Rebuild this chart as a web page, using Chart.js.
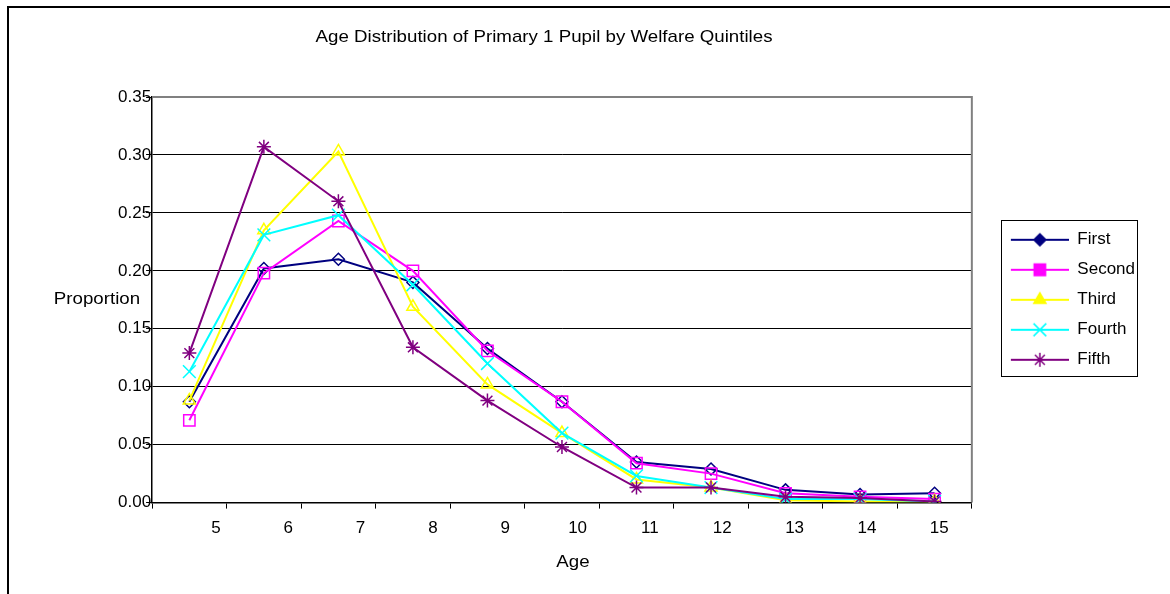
<!DOCTYPE html>
<html>
<head>
<meta charset="utf-8">
<script src="https://cdn.jsdelivr.net/npm/chart.js@4.4.1/dist/chart.umd.min.js"></script>
<style>
html,body{margin:0;padding:0;background:#fff;overflow:hidden}
#moldura{position:absolute;left:7px;top:6px;width:1300px;height:700px;border:2px solid #000}
#caixa{position:absolute;left:0;top:0;width:1170px;height:594px}
</style>
</head>
<body>
<div id="moldura"></div>
<div id="caixa"><canvas id="grafico"></canvas></div>
<script>
// ===== Dados =====
const idades = [5, 6, 7, 8, 9, 10, 11, 12, 13, 14, 15];
const yTicks = [0, 0.05, 0.10, 0.15, 0.20, 0.25, 0.30, 0.35];
const primeiro = [0.087, 0.202, 0.210, 0.190, 0.133, 0.087, 0.035, 0.029, 0.011, 0.007, 0.008];
const segundo  = [0.071, 0.198, 0.243, 0.200, 0.131, 0.087, 0.034, 0.025, 0.008, 0.005, 0.003];
const terceiro = [0.088, 0.235, 0.303, 0.169, 0.102, 0.060, 0.020, 0.013, 0.002, 0.001, 0.001];
const quarto   = [0.113, 0.231, 0.248, 0.188, 0.120, 0.060, 0.023, 0.013, 0.003, 0.003, 0.001];
const quinto   = [0.129, 0.307, 0.260, 0.134, 0.088, 0.048, 0.013, 0.013, 0.005, 0.004, 0.001];

const titulo = 'Age Distribution of Primary 1 Pupil by Welfare Quintiles';
const FONTE = "'Liberation Sans', Arial, sans-serif";

const series = [
  {label:'First',  data:primeiro, cor:'#000080', estilo:'rectRot',  raio:6},
  {label:'Second', data:segundo,  cor:'#FF00FF', estilo:'rect',     raio:8},
  {label:'Third',  data:terceiro, cor:'#FFFF00', estilo:'triangle', raio:7},
  {label:'Fourth', data:quarto,   cor:'#00FFFF', estilo:'crossRot', raio:9},
  {label:'Fifth',  data:quinto,   cor:'#800080', estilo:'star',     raio:7}
];

const datasets = series.map((s, i) => ({
  label: s.label, data: s.data,
  borderColor: s.cor, backgroundColor: s.cor, borderWidth: 2,
  pointStyle: s.estilo, pointRadius: s.raio, pointHoverRadius: s.raio,
  pointBorderColor: s.cor, pointBackgroundColor: 'rgba(0,0,0,0)', pointBorderWidth: 1.5,
  tension: 0, fill: false, order: series.length - 1 - i
}));

// icone da legenda: linha + marcador cheio (margem transparente à esquerda)
const MARGEM = 26, LINHA = 58;
function iconeLegenda(ds){
  const c = document.createElement('canvas');
  c.width = MARGEM + LINHA; c.height = 20;
  const g = c.getContext('2d');
  g.strokeStyle = ds.borderColor; g.lineWidth = 2;
  g.beginPath(); g.moveTo(MARGEM, 10); g.lineTo(MARGEM + LINHA, 10); g.stroke();
  g.fillStyle = ds.borderColor; g.lineWidth = 1.5;
  Chart.helpers.drawPoint(g, {pointStyle: ds.pointStyle, radius: ds.pointRadius, rotation: 0, borderWidth: 1.5}, MARGEM + LINHA/2, 10);
  return c;
}

// texto esticado na horizontal (o original parece alargado ~10%)
function textoLargo(ctx, txt, x, y, alinh){
  const k = 1.1;
  ctx.save();
  ctx.translate(x, y); ctx.scale(k, 1);
  ctx.textAlign = alinh;
  ctx.fillText(txt, 0, 0);
  ctx.restore();
}

// ===== textos extras, moldura da área e da legenda =====
const extras = {
  id: 'extras',
  beforeDatasetsDraw(chart){
    const {ctx, chartArea:a} = chart;
    ctx.save();
    ctx.strokeStyle = '#808080'; ctx.lineWidth = 2;
    ctx.beginPath(); ctx.moveTo(a.left, a.top); ctx.lineTo(a.right, a.top); ctx.lineTo(a.right, a.bottom); ctx.stroke();
    ctx.restore();
  },
  afterDraw(chart){
    const {ctx, chartArea:a} = chart;
    ctx.save();
    ctx.fillStyle = '#000';
    ctx.font = '17px ' + FONTE;
    ctx.textBaseline = 'middle';
    textoLargo(ctx, titulo, 544, 37, 'center');
    textoLargo(ctx, 'Age', 573, 562, 'center');
    textoLargo(ctx, 'Proportion', a.left - 12, (a.top + a.bottom) / 2, 'right');
    // borda da legenda
    const hb = chart.legend.legendHitBoxes;
    if (hb && hb.length){
      const esq = hb[0].left + MARGEM - 10;
      const dir = Math.max(...hb.map(h => h.left + h.width)) + 2;
      const topo = hb[0].top - 11;
      const base = hb[hb.length-1].top + hb[hb.length-1].height + 8;
      ctx.strokeStyle = '#000'; ctx.lineWidth = 1;
      ctx.strokeRect(Math.round(esq)+0.5, Math.round(topo)+0.5, Math.round(dir-esq), Math.round(base-topo));
    }
    ctx.restore();
  }
};

const fonteEixo = {size: 17, family: FONTE};

new Chart(document.getElementById('grafico').getContext('2d'), {
  type: 'line',
  data: { labels: idades.map(String), datasets },
  options: {
    responsive: true, maintainAspectRatio: false, animation: false,
    layout: { padding: {left: 117, top: 97, right: 25, bottom: 45} },
    plugins: {
      title: {display: false},
      tooltip: {enabled: false},
      legend: {
        position: 'right', fullSize: false,
        labels: {
          usePointStyle: true, pointStyleWidth: MARGEM + LINHA, padding: 13,
          font: fonteEixo, color: '#000',
          generateLabels: chart => chart.data.datasets.map((ds, i) => ({
            text: ds.label, pointStyle: iconeLegenda(ds), datasetIndex: i,
            fillStyle: ds.borderColor, strokeStyle: ds.borderColor, lineWidth: 0,
            hidden: false, fontColor: '#000'
          }))
        }
      }
    },
    scales: {
      x: {
        type: 'category', offset: true, weight: 0,
        grid: {offset: true, drawOnChartArea: false, tickLength: 6, color: '#000'},
        border: {color: '#000', width: 1.5},
        ticks: {display: false}
      },
      xl: {
        type: 'linear', position: 'bottom', weight: 1, min: 4.118, max: 15.45,
        afterBuildTicks: ax => { ax.ticks = idades.map(v => ({value: v})); },
        grid: {display: false, drawTicks: false},
        border: {display: false},
        ticks: {font: fonteEixo, color: '#000', padding: 10, maxRotation: 0, autoSkip: false, callback: v => String(v)}
      },
      y: {
        min: 0, max: 0.35,
        afterBuildTicks: ax => { ax.ticks = yTicks.map(v => ({value: v})); },
        afterFit: ax => { ax.width += 6; },
        grid: {color: '#000', tickLength: 6},
        border: {color: '#000', width: 1.5},
        ticks: {font: fonteEixo, color: '#000', padding: -5, callback: v => v.toFixed(2)}
      }
    }
  },
  plugins: [extras]
});
</script>
</body>
</html>
